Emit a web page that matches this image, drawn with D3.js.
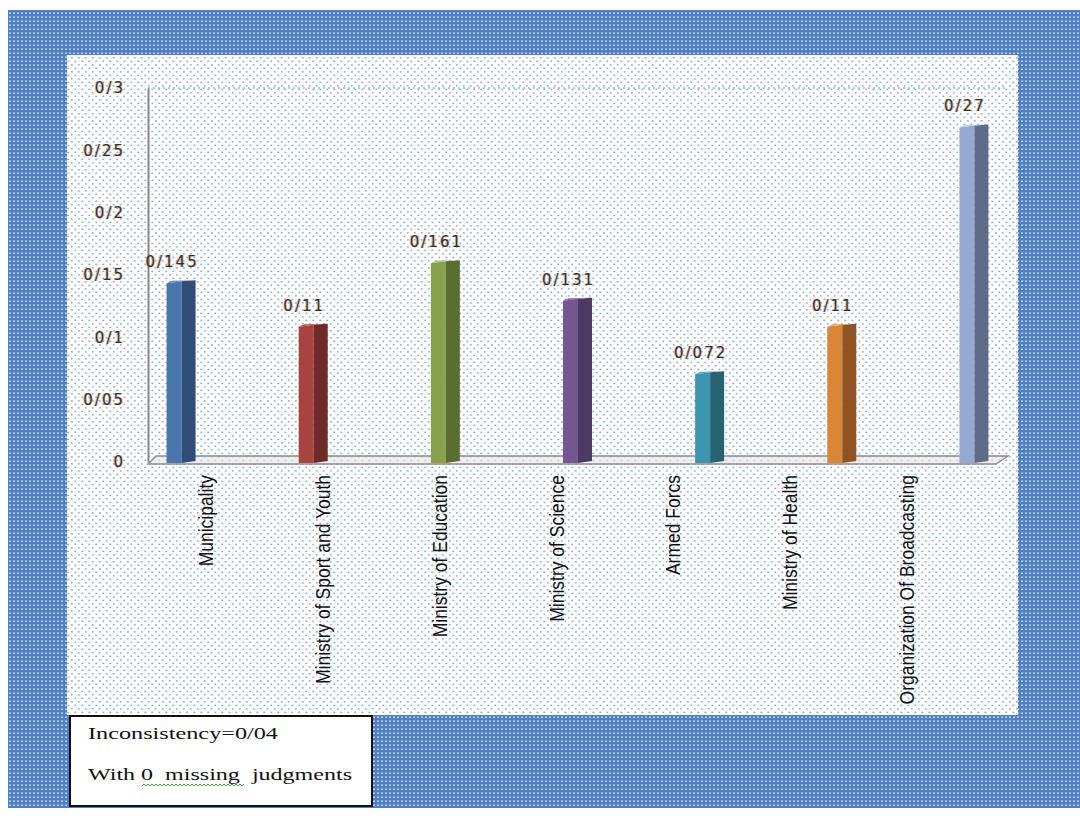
<!DOCTYPE html>
<meta charset="utf-8">
<title>Inconsistency chart</title>
<style>
body { margin:0; background:#fff; }
.tick text, .vlabel { font: 15px "DejaVu Sans", sans-serif; letter-spacing: 2px; fill:#3d3020;
  text-shadow: -1px 0 rgba(225,140,40,0.45), 1px 0 rgba(70,100,200,0.3); }
.cat { font: 17.5px "Liberation Sans", Arial, sans-serif; fill:#111; }
.legend text { font: 16px "Liberation Serif", "Times New Roman", serif; fill:#111; white-space: pre; }
</style>
<svg width="1080" height="822"></svg>
<script src="https://d3js.org/d3.v7.min.js"></script>
<script>

// data
var categories = ["Municipality", "Ministry of Sport and Youth", "Ministry of Education",
                  "Ministry of Science", "Armed Forcs", "Ministry of Health", "Organization Of Broadcasting"];
var values = [0.145, 0.11, 0.161, 0.131, 0.072, 0.11, 0.27];
var tickValues = [0, 0.05, 0.1, 0.15, 0.2, 0.25, 0.3];
var frontColors = ["#4a76aa", "#a8433f", "#87a24b", "#72588f", "#3d96ae", "#da8638", "#95aad0"];
var sideColors  = ["#2f4e77", "#6e2b29", "#5b6e31", "#4a3b61", "#28616f", "#8f5324", "#5e6c88"];
var legendLines = ["Inconsistency=0/04", "With 0  missing  judgments"];

var svg = d3.select("svg");
var defs = svg.append("defs");

// blue woven border pattern
var pb = defs.append("pattern").attr("id", "blueweave").attr("patternUnits", "userSpaceOnUse")
  .attr("width", 4).attr("height", 4);
pb.append("rect").attr("width", 4).attr("height", 4).attr("fill", "#5080c4");
pb.append("rect").attr("x", 1).attr("y", 0.5).attr("width", 2).attr("height", 1.4).attr("fill", "#c6d6ef");

// dotted panel pattern
var pd = defs.append("pattern").attr("id", "dots").attr("patternUnits", "userSpaceOnUse")
  .attr("width", 7).attr("height", 7);
pd.append("rect").attr("width", 7).attr("height", 7).attr("fill", "#fff");
pd.append("ellipse").attr("cx", 1.8).attr("cy", 1.8).attr("rx", 1.1).attr("ry", 0.9).attr("fill", "#8fb0dd");
pd.append("ellipse").attr("cx", 5.3).attr("cy", 5.3).attr("rx", 1.1).attr("ry", 0.9).attr("fill", "#8fb0dd");

svg.append("rect").attr("x", 8).attr("y", 10).attr("width", 1072).attr("height", 798)
  .attr("fill", "url(#blueweave)");
svg.append("rect").attr("x", 67).attr("y", 55).attr("width", 951).attr("height", 660)
  .attr("fill", "url(#dots)");

var y = d3.scaleLinear().domain([0, 0.3]).range([462, 88]);
var xBar = d3.scaleBand().domain(categories).range([115, 1040]);
var xLab = d3.scaleBand().domain(categories).range([148, 965]);

function fmt(v) { return String(v).replace(".", "/"); }

// top gridline
svg.append("line").attr("x1", 148).attr("x2", 1005).attr("y1", y(0.3)).attr("y2", y(0.3))
  .attr("stroke", "#6f95cf").attr("stroke-width", 1.2).attr("stroke-dasharray", "2,3");

// floor
svg.append("path")
  .attr("d", "M148," + (y(0) + 2) + "L996," + (y(0) + 2) + "L1008," + (y(0) - 6) + "L156," + (y(0) - 6) + "Z")
  .attr("fill", "#e4e4e4").attr("fill-opacity", 0.6)
  .attr("stroke", "#8a8a8a").attr("stroke-width", 1.3);

// y axis
var yAxis = svg.append("g").attr("transform", "translate(148,0)")
  .call(d3.axisLeft(y).tickValues(tickValues).tickSize(0).tickPadding(23).tickFormat(fmt));
yAxis.select(".domain").attr("stroke", "#888").attr("stroke-width", 2);

// bars
var bars = svg.selectAll(".bar").data(categories).enter().append("g").attr("class", "bar");
bars.append("path")
  .attr("d", function(c, i) {
    var cx = xBar(c) + xBar.bandwidth() / 2, t = y(values[i]);
    return "M" + (cx - 14.5) + "," + (y(0) + 1) + "L" + (cx - 14.5) + "," + (t + 2) +
      "L" + (cx + 0.5) + "," + t + "L" + (cx + 0.5) + "," + (y(0) + 1) + "Z";
  })
  .attr("fill", function(c, i) { return frontColors[i]; });
bars.append("path")
  .attr("d", function(c, i) {
    var cx = xBar(c) + xBar.bandwidth() / 2, t = y(values[i]);
    return "M" + (cx + 0.5) + "," + (y(0) + 1) + "L" + (cx + 0.5) + "," + t +
      "L" + (cx + 14.5) + "," + (t - 1) + "L" + (cx + 14.5) + "," + (y(0) - 1) + "Z";
  })
  .attr("fill", function(c, i) { return sideColors[i]; });
bars.append("path")
  .attr("d", function(c, i) {
    var cx = xBar(c) + xBar.bandwidth() / 2, t = y(values[i]);
    return "M" + (cx - 14.5) + "," + (t + 2) + "L" + (cx - 9) + "," + (t - 0.5) +
      "L" + (cx + 14.5) + "," + (t - 1) + "L" + (cx + 0.5) + "," + t + "Z";
  })
  .attr("fill", function(c, i) { return d3.color(frontColors[i]).brighter(0.5); });

// value labels
svg.selectAll(".vlabel").data(categories).enter().append("text").attr("class", "vlabel")
  .attr("x", function(c) { return xBar(c) + xBar.bandwidth() / 2 - 9; })
  .attr("y", function(c, i) { return y(values[i]) - 14; })
  .attr("text-anchor", "middle")
  .text(function(c, i) { return fmt(values[i]); });

// category labels
svg.selectAll(".cat").data(categories).enter().append("text").attr("class", "cat")
  .attr("transform", function(c) {
    return "translate(" + (xLab(c) + xLab.bandwidth() / 2) + ",475) rotate(-90) scale(1,1.15)";
  })
  .attr("dy", "0.35em")
  .attr("text-anchor", "end")
  .text(function(c) { return c; });

// legend box
var lg = svg.append("g").attr("class", "legend");
lg.append("rect").attr("x", 70).attr("y", 716).attr("width", 302).attr("height", 90)
  .attr("fill", "#fff").attr("stroke", "#111").attr("stroke-width", 2);
lg.selectAll("text").data(legendLines).enter().append("text")
  .attr("x", 88).attr("y", function(d, i) { return 739 + i * 41; })
  .attr("textLength", function(d, i) { return i ? 264 : 190; })
  .attr("lengthAdjust", "spacingAndGlyphs")
  .text(function(d) { return d; });

// spell-check squiggle
var sq = d3.range(142, 246, 2).map(function(x, i) { return [x, 785 + (i % 2 ? -1 : 1)]; });
lg.append("path").attr("d", d3.line()(sq)).attr("fill", "none")
  .attr("stroke", "#3aa43a").attr("stroke-width", 1);

</script>
